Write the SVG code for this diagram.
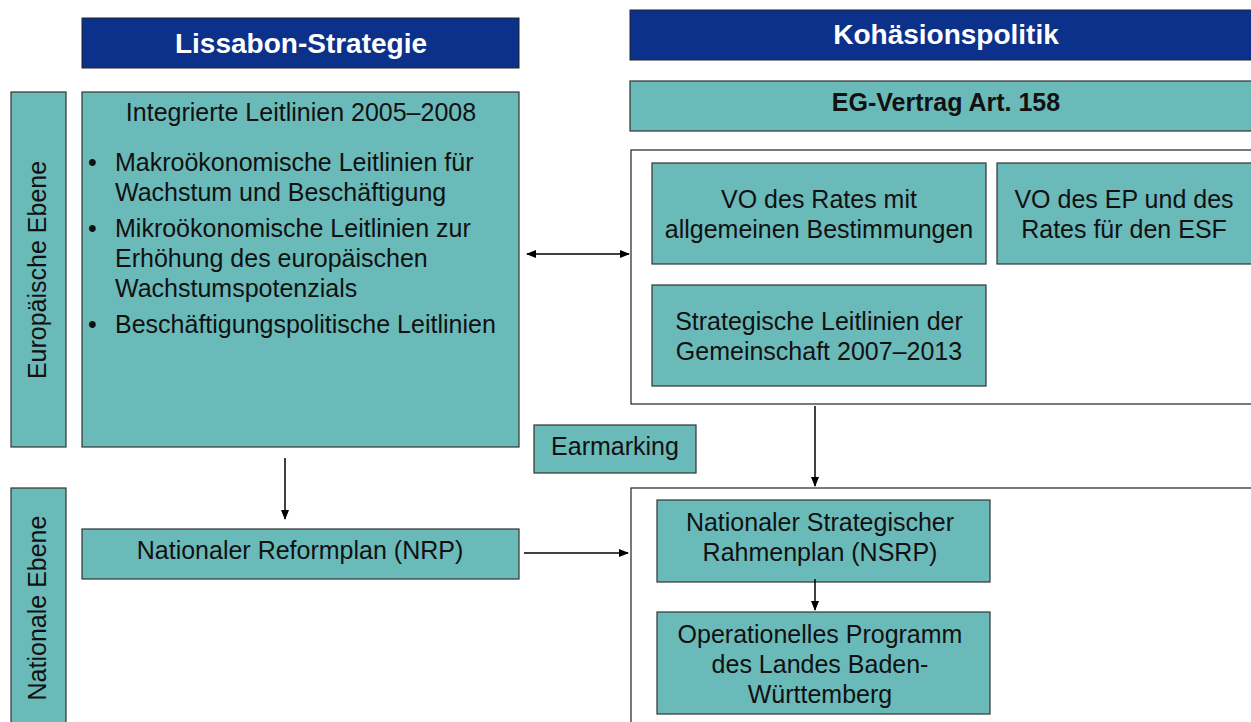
<svg xmlns="http://www.w3.org/2000/svg" width="1251" height="722" viewBox="0 0 1251 722">
<style>
.hdr{fill:#0c318a;stroke:#222;stroke-width:1}
.box{fill:#6bbaba;stroke:#333;stroke-width:1.2}
.frame{fill:#fff;stroke:#222;stroke-width:1.2}
.t{font-family:"Liberation Sans",Arial,sans-serif;font-size:25px;fill:#111}
.c{text-anchor:middle}
.ht{font-family:"Liberation Sans",Arial,sans-serif;font-size:28px;font-weight:bold;fill:#fff;text-anchor:middle}
.b{font-weight:bold;font-size:25px}
.conn line{stroke:#000;stroke-width:1.5}
</style>
<defs>
<marker id="ah" markerWidth="10" markerHeight="8" refX="9" refY="4" orient="auto" markerUnits="userSpaceOnUse"><path d="M0,0 L10,4 L0,8 Z" fill="#000"/></marker>
<marker id="as" markerWidth="10" markerHeight="8" refX="1" refY="4" orient="auto" markerUnits="userSpaceOnUse"><path d="M10,0 L0,4 L10,8 Z" fill="#000"/></marker>
</defs>
<g id="hdr-lissabon"><rect class="hdr" x="82" y="18" width="437" height="50"/><text class="ht" x="301" y="53">Lissabon-Strategie</text></g>
<g id="hdr-kohaesion"><rect class="hdr" x="630" y="10" width="625" height="50"/><text class="ht" x="946" y="44">Kohäsionspolitik</text></g>
<g id="eg-vertrag"><rect class="box" x="630" y="81" width="625" height="50"/><text class="t c b" x="946" y="111">EG-Vertrag Art. 158</text></g>
<g id="eu-ebene"><rect class="box" x="11" y="92" width="55" height="355"/><text class="t c" transform="translate(46,270) rotate(-90)">Europäische Ebene</text></g>
<g id="nat-ebene"><rect class="box" x="11" y="488" width="55" height="240"/><text class="t c" transform="translate(46,608) rotate(-90)">Nationale Ebene</text></g>
<g id="integrierte"><rect class="box" x="82" y="92" width="437" height="355"/>
<text class="t c" x="301" y="121">Integrierte Leitlinien 2005–2008</text>
<text class="t" x="88" y="171">•</text><text class="t" x="115" y="171">Makroökonomische Leitlinien für</text>
<text class="t" x="115" y="201">Wachstum und Beschäftigung</text>
<text class="t" x="88" y="237">•</text><text class="t" x="115" y="237">Mikroökonomische Leitlinien zur</text>
<text class="t" x="115" y="267">Erhöhung des europäischen</text>
<text class="t" x="115" y="297">Wachstumspotenzials</text>
<text class="t" x="88" y="333">•</text><text class="t" x="115" y="333">Beschäftigungspolitische Leitlinien</text>
</g>
<g id="eu-frame"><rect class="frame" x="631" y="150" width="625" height="254"/></g>
<g id="vo-rates"><rect class="box" x="652" y="163" width="334" height="101"/><text class="t c" x="819" y="208">VO des Rates mit</text><text class="t c" x="819" y="238">allgemeinen Bestimmungen</text></g>
<g id="vo-ep"><rect class="box" x="997" y="163" width="258" height="101"/><text class="t c" x="1124" y="208">VO des EP und des</text><text class="t c" x="1124" y="238">Rates für den ESF</text></g>
<g id="strategische"><rect class="box" x="652" y="285" width="334" height="101"/><text class="t c" x="819" y="330">Strategische Leitlinien der</text><text class="t c" x="819" y="360">Gemeinschaft 2007–2013</text></g>
<g id="earmarking"><rect class="box" x="534" y="425" width="162" height="48"/><text class="t c" x="615" y="455">Earmarking</text></g>
<g id="nrp"><rect class="box" x="82" y="529" width="437" height="50"/><text class="t c" x="300" y="559">Nationaler Reformplan (NRP)</text></g>
<g id="nat-frame"><rect class="frame" x="631" y="488" width="625" height="240"/></g>
<g id="nsrp"><rect class="box" x="657" y="500" width="333" height="82"/><text class="t c" x="820" y="531">Nationaler Strategischer</text><text class="t c" x="820" y="561">Rahmenplan (NSRP)</text></g>
<g id="op"><rect class="box" x="657" y="612" width="333" height="102"/><text class="t c" x="820" y="643">Operationelles Programm</text><text class="t c" x="820" y="673">des Landes Baden-</text><text class="t c" x="820" y="703">Württemberg</text></g>
<g id="connectors" class="conn">
<line x1="527" y1="254" x2="629" y2="254" marker-start="url(#as)" marker-end="url(#ah)"/>
<line x1="815" y1="406" x2="815" y2="486" marker-end="url(#ah)"/>
<line x1="285" y1="458" x2="285" y2="519" marker-end="url(#ah)"/>
<line x1="524" y1="553" x2="628" y2="553" marker-end="url(#ah)"/>
<line x1="815" y1="579" x2="815" y2="610" marker-end="url(#ah)"/>
</g>
</svg>
